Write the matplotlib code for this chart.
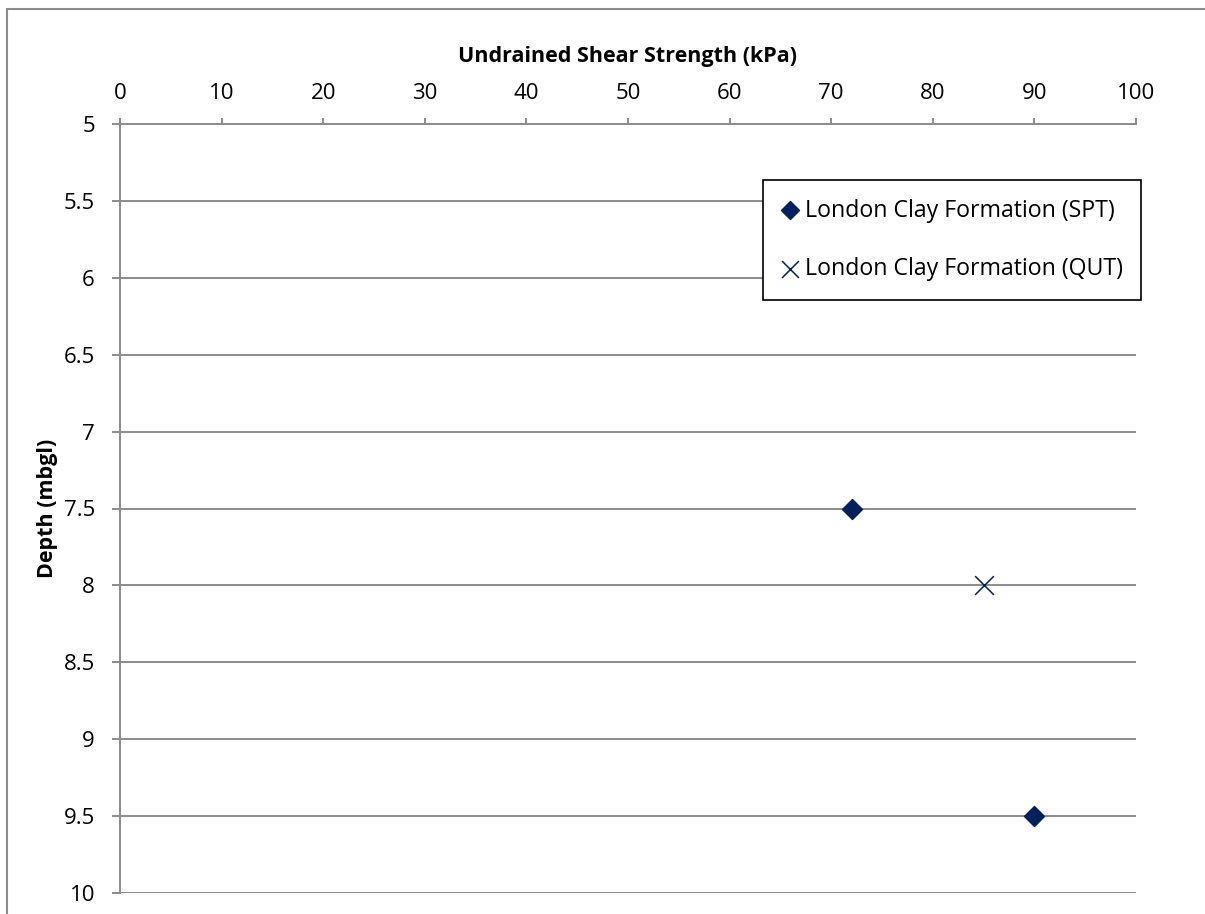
import matplotlib.pyplot as plt
from matplotlib.patches import Rectangle

plt.rcParams['font.family'] = ['Open Sans', 'DejaVu Sans']

# Resultados de ensayo: resistencia al corte no drenada vs profundidad
spt_cu = [72, 90]
spt_depth = [7.5, 9.5]
qut_cu = [85]
qut_depth = [8.0]

x_ticks = list(range(0, 101, 10))
y_ticks = [5, 5.5, 6, 6.5, 7, 7.5, 8, 8.5, 9, 9.5, 10]
y_labels = ["5", "5.5", "6", "6.5", "7", "7.5", "8", "8.5", "9", "9.5", "10"]

NAVY = "#002060"
GRIS = "#8c8c8c"
W, H = 1205, 914

fig = plt.figure(figsize=(W / 100, H / 100), dpi=100)
fig.patch.set_facecolor("white")

# Marco exterior del gráfico (se sale por la derecha y por abajo)
fig.add_artist(Rectangle((7 / W, -0.1), 1.2, 1 - 9 / H + 0.1, transform=fig.transFigure,
                         fill=False, edgecolor=GRIS, lw=1.5))

ax = fig.add_axes([120 / W, 1 - 893 / H, (1136 - 120) / W, (893 - 124) / H])

ax.scatter(spt_cu, spt_depth, marker="D", s=10.2 ** 2, color=NAVY, zorder=3,
           label="London Clay Formation (SPT)")
ax.scatter(qut_cu, qut_depth, marker="x", s=13.5 ** 2, color=NAVY, linewidths=1.1, zorder=3,
           label="London Clay Formation (QUT)")

ax.set_xlim(0, 100)
ax.set_ylim(10, 5)
ax.xaxis.tick_top()
ax.xaxis.set_label_position("top")
ax.set_xticks(x_ticks)
ax.set_yticks(y_ticks)
ax.set_yticklabels(y_labels)

ax.tick_params(axis="x", direction="out", length=4, width=1.4, color=GRIS, labelsize=16, pad=10.5)
ax.tick_params(axis="y", direction="out", length=6, width=1.4, color=GRIS, labelsize=16, pad=12)

for lado in ["right", "bottom"]:
    ax.spines[lado].set_visible(False)
for lado in ["top", "left"]:
    ax.spines[lado].set_color(GRIS)
    ax.spines[lado].set_linewidth(1.4)

ax.yaxis.grid(True, color=GRIS, lw=1.4)
ax.set_axisbelow(True)

ax.set_xlabel("Undrained Shear Strength (kPa)", fontsize=15.5, fontweight="bold", labelpad=15)
ax.set_ylabel("Depth (mbgl)", fontsize=15.5, fontweight="bold", labelpad=4)

leg = ax.legend(loc="upper left", bbox_to_anchor=(763 / W, 1 - 180 / H),
                bbox_transform=fig.transFigure, borderaxespad=0, fontsize=16.7,
                frameon=True, fancybox=False, framealpha=1, edgecolor="black",
                handlelength=0.7, handletextpad=0.3, labelspacing=1.5,
                borderpad=0.8, scatterpoints=1, markerscale=0.9)
leg.get_frame().set_linewidth(1.2)

fig.savefig("out.png", dpi=100, facecolor="white")
